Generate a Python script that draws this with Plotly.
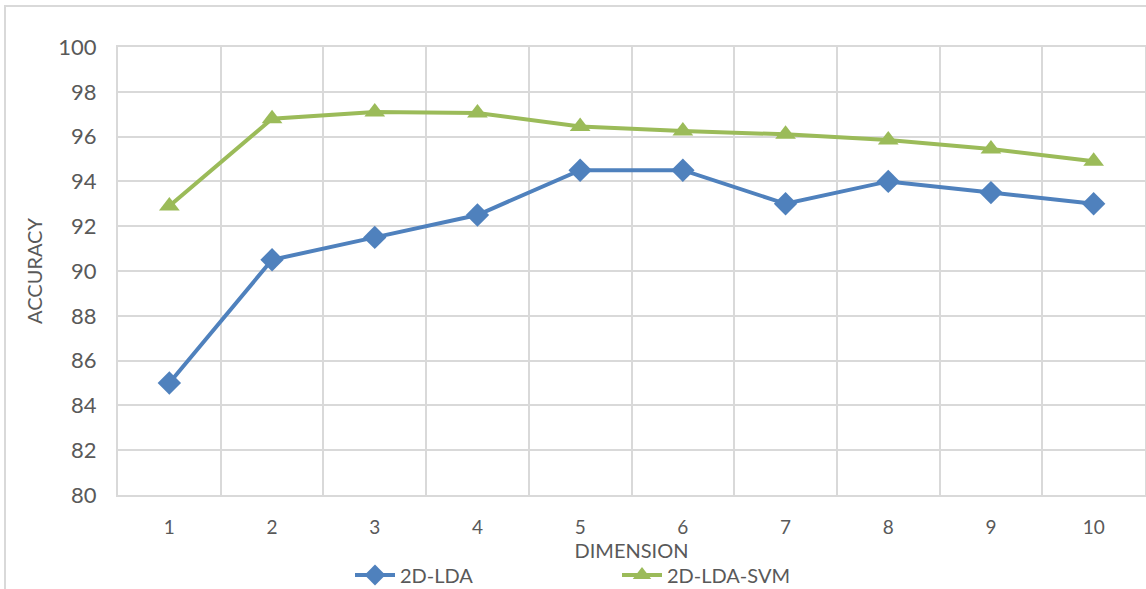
import plotly.graph_objects as go

# Reduced dimension and recognition accuracy (%) for each method
dimensions = [1, 2, 3, 4, 5, 6, 7, 8, 9, 10]
lda_accuracy = [85.0, 90.5, 91.5, 92.5, 94.5, 94.5, 93.0, 94.0, 93.5, 93.0]
lda_svm_accuracy = [92.9, 96.8, 97.1, 97.05, 96.45, 96.25, 96.1, 95.85, 95.45, 94.9]
y_ticks = [80, 82, 84, 86, 88, 90, 92, 94, 96, 98, 100]

BLUE = "#4F81BD"
GREEN = "#9BBB59"
GRID = "#D9D9D9"
TEXT = "#595959"
FONT = "Lato, Carlito, Calibri, sans-serif"

fig = go.Figure()
fig.add_trace(go.Scatter(
    x=dimensions, y=lda_accuracy, name="2D-LDA", mode="lines+markers",
    line=dict(color=BLUE, width=4),
    marker=dict(symbol="diamond", size=18, color=BLUE),
))
fig.add_trace(go.Scatter(
    x=dimensions, y=lda_svm_accuracy, name="2D-LDA-SVM", mode="lines+markers",
    line=dict(color=GREEN, width=4),
    marker=dict(symbol="triangle-up", size=18, color=GREEN),
))

W, H = 1146, 589
ml, mr, mt, mb = 118, 1, 47, 94
pw, ph = W - ml - mr, H - mt - mb

# chart-area frame around the whole figure
fig.add_shape(
    type="rect", xref="paper", yref="paper", layer="below",
    x0=(5 - ml) / pw, x1=1.05, y0=-0.4, y1=(H - mb - 6) / ph,
    line=dict(color=GRID, width=2), fillcolor="rgba(0,0,0,0)",
)

fig.update_layout(
    width=W, height=H,
    margin=dict(l=ml, r=mr, t=mt, b=mb, autoexpand=False),
    paper_bgcolor="white", plot_bgcolor="white",
    font=dict(family=FONT, color=TEXT),
    showlegend=True,
    legend=dict(
        orientation="h", x=(350 - ml) / pw, xanchor="left",
        y=-(575 - (H - mb)) / ph, yanchor="middle",
        font=dict(size=20, color=TEXT), entrywidth=212, itemwidth=40,
    ),
)
fig.update_xaxes(
    range=[0.5, 10.5], tickvals=dimensions, ticktext=[str(d) for d in dimensions],
    showgrid=False, zeroline=False, ticks="", automargin=False,
    showline=True, mirror=True, linecolor=GRID, linewidth=2,
    minor=dict(tickvals=[d + 0.5 for d in [0] + dimensions], showgrid=True,
               gridcolor=GRID, gridwidth=2, ticks=""),
    tickfont=dict(size=19, color=TEXT), ticklabelstandoff=14,
    title=dict(text="DIMENSION", font=dict(size=20, color=TEXT), standoff=4),
)
fig.update_yaxes(
    range=[80, 100], tickvals=y_ticks,
    showgrid=True, gridcolor=GRID, gridwidth=2, zeroline=False, ticks="",
    showline=True, mirror=True, linecolor=GRID, linewidth=2, automargin=False,
    tickfont=dict(size=22, color=TEXT), ticklabelstandoff=15,
    title=dict(text="ACCURACY", font=dict(size=20, color=TEXT), standoff=10),
)

fig.write_html("out.html")
